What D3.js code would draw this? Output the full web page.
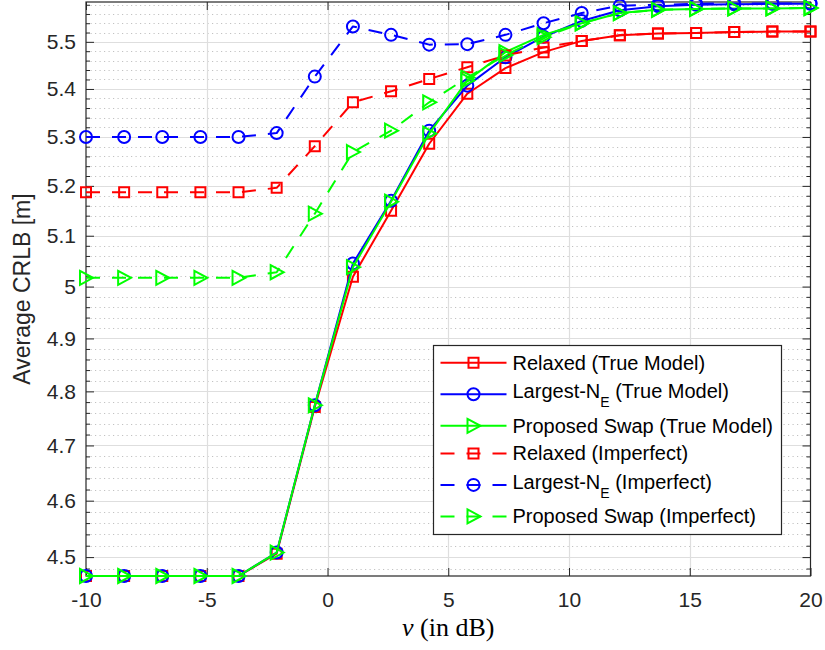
<!DOCTYPE html>
<html>
<head>
<meta charset="utf-8">
<script src="https://cdn.jsdelivr.net/npm/d3@7"></script>
<style>
  body { margin: 0; background: #fff; }
  svg { display: block; }
  .tick text { font-family: "Liberation Sans", Arial, sans-serif; }
</style>
</head>
<body>
<svg id="chart" width="825" height="650"></svg>
<script>
// SNR grid (dB)
const snrDb = [-10, -8.421, -6.842, -5.263, -3.684, -2.105, -0.526, 1.053, 2.632, 4.211,
               5.789, 7.368, 8.947, 10.526, 12.105, 13.684, 15.263, 16.842, 18.421, 20];

// Average CRLB [m] for each scheme
const relaxedTrue  = [4.467, 4.467, 4.467, 4.467, 4.467, 4.506, 4.771, 5.019, 5.150, 5.286,
                      5.390, 5.444, 5.478, 5.502, 5.514, 5.518, 5.519, 5.521, 5.522, 5.522];
const largestTrue  = [4.467, 4.467, 4.467, 4.467, 4.467, 4.508, 4.774, 5.045, 5.170, 5.313,
                      5.407, 5.467, 5.511, 5.545, 5.568, 5.577, 5.580, 5.581, 5.582, 5.582];
const swapTrue     = [4.467, 4.467, 4.467, 4.467, 4.467, 4.508, 4.774, 5.038, 5.168, 5.307,
                      5.418, 5.478, 5.515, 5.540, 5.562, 5.569, 5.571, 5.572, 5.572, 5.573];
const relaxedImp   = [5.187, 5.187, 5.187, 5.187, 5.187, 5.196, 5.281, 5.372, 5.395, 5.421,
                      5.446, 5.471, 5.488, 5.502, 5.514, 5.518, 5.519, 5.521, 5.522, 5.522];
const largestImp   = [5.300, 5.300, 5.300, 5.300, 5.300, 5.308, 5.426, 5.533, 5.515, 5.494,
                      5.495, 5.515, 5.540, 5.562, 5.578, 5.580, 5.582, 5.583, 5.583, 5.583];
const swapImp      = [5.017, 5.017, 5.017, 5.017, 5.017, 5.028, 5.144, 5.269, 5.313, 5.372,
                      5.424, 5.472, 5.510, 5.540, 5.562, 5.569, 5.571, 5.572, 5.572, 5.573];

const seriesNames = ["Relaxed (True Model)", "Largest-N_E (True Model)", "Proposed Swap (True Model)",
                     "Relaxed (Imperfect)", "Largest-N_E (Imperfect)", "Proposed Swap (Imperfect)"];
const seriesValues = [relaxedTrue, largestTrue, swapTrue, relaxedImp, largestImp, swapImp];

// Axis ticks
const xTicks = [-10, -5, 0, 5, 10, 15, 20];
const xTickLabels = ["-10", "-5", "0", "5", "10", "15", "20"];
const yTicks = [4.5, 4.6, 4.7, 4.8, 4.9, 5.0, 5.1, 5.2, 5.3, 5.4, 5.5];
const yTickLabels = ["4.5", "4.6", "4.7", "4.8", "4.9", "5", "5.1", "5.2", "5.3", "5.4", "5.5"];
const yMinorTicks = [4.48, 4.52, 4.54, 4.56, 4.58, 4.62, 4.64, 4.66, 4.68, 4.72, 4.74, 4.76, 4.78,
                     4.82, 4.84, 4.86, 4.88, 4.92, 4.94, 4.96, 4.98, 5.02, 5.04, 5.06, 5.08,
                     5.12, 5.14, 5.16, 5.18, 5.22, 5.24, 5.26, 5.28, 5.32, 5.34, 5.36, 5.38,
                     5.42, 5.44, 5.46, 5.48, 5.52, 5.54, 5.56, 5.58];

// Drawing styles per series
const styles = [
  { color: "#ff0000", marker: "square",   dash: null },
  { color: "#0000ff", marker: "circle",   dash: null },
  { color: "#00ff00", marker: "triangle", dash: null },
  { color: "#ff0000", marker: "square",   dash: "14,12" },
  { color: "#0000ff", marker: "circle",   dash: "14,12" },
  { color: "#00ff00", marker: "triangle", dash: "14,12" }
];

const plot = { left: 86, right: 810.5, top: 2, bottom: 576 };
const axisColor = "#262626";
const fontSans = '"Liberation Sans", Arial, Helvetica, sans-serif';

const x = d3.scaleLinear().domain([-10, 20]).range([plot.left, plot.right]);
const y = d3.scaleLog().domain([4.467, 5.586]).range([plot.bottom, plot.top]);

const svg = d3.select("#chart");
svg.append("rect").attr("width", 825).attr("height", 650).attr("fill", "#fff");

// Grid
const grid = svg.append("g");
grid.selectAll("line.yminor").data(yMinorTicks).join("line")
  .attr("class", "yminor")
  .attr("x1", plot.left).attr("x2", plot.right)
  .attr("y1", d => Math.round(y(d)) + 0.5).attr("y2", d => Math.round(y(d)) + 0.5)
  .attr("stroke", "#c2c2c2").attr("stroke-width", 1).attr("stroke-dasharray", "1.2,3.3");
grid.selectAll("line.ymajor").data(yTicks).join("line")
  .attr("class", "ymajor")
  .attr("x1", plot.left).attr("x2", plot.right)
  .attr("y1", d => Math.round(y(d)) + 0.5).attr("y2", d => Math.round(y(d)) + 0.5)
  .attr("stroke", "#dedede").attr("stroke-width", 1.2);
grid.selectAll("line.xmajor").data(xTicks.slice(1, -1)).join("line")
  .attr("class", "xmajor")
  .attr("y1", plot.top).attr("y2", plot.bottom)
  .attr("x1", d => Math.round(x(d)) + 0.5).attr("x2", d => Math.round(x(d)) + 0.5)
  .attr("stroke", "#dedede").attr("stroke-width", 1.2);

// Axes (ticks pointing inward on all four sides)
function styleAxis(g) {
  g.select(".domain").remove();
  g.selectAll(".tick line").attr("stroke", axisColor).attr("stroke-width", 1);
  g.selectAll(".tick text").attr("fill", axisColor).attr("font-size", 21).attr("font-family", fontSans);
}
const xFmt = (d) => xTickLabels[xTicks.indexOf(d)];
const yFmt = (d) => yTickLabels[yTicks.indexOf(d)];

svg.append("g").attr("transform", `translate(0,${plot.bottom})`)
  .call(d3.axisBottom(x).tickValues(xTicks).tickFormat(xFmt).tickSize(-8).tickSizeOuter(0).tickPadding(16))
  .call(styleAxis);
svg.append("g").attr("transform", `translate(0,${plot.top})`)
  .call(d3.axisTop(x).tickValues(xTicks).tickFormat("").tickSize(-8).tickSizeOuter(0))
  .call(styleAxis);
svg.append("g").attr("transform", `translate(${plot.left},0)`)
  .call(d3.axisLeft(y).tickValues(yTicks).tickFormat(yFmt).tickSize(-8).tickSizeOuter(0).tickPadding(10))
  .call(styleAxis);
svg.append("g").attr("transform", `translate(${plot.left},0)`)
  .call(d3.axisLeft(y).tickValues(yMinorTicks).tickFormat("").tickSize(-4).tickSizeOuter(0))
  .call(styleAxis);
svg.append("g").attr("transform", `translate(${plot.right},0)`)
  .call(d3.axisRight(y).tickValues(yTicks).tickFormat("").tickSize(-8).tickSizeOuter(0))
  .call(styleAxis);
svg.append("g").attr("transform", `translate(${plot.right},0)`)
  .call(d3.axisRight(y).tickValues(yMinorTicks).tickFormat("").tickSize(-4).tickSizeOuter(0))
  .call(styleAxis);

// Box
svg.append("rect")
  .attr("x", plot.left).attr("y", plot.top)
  .attr("width", plot.right - plot.left).attr("height", plot.bottom - plot.top)
  .attr("fill", "none").attr("stroke", axisColor).attr("stroke-width", 1.2);

// Marker shapes
function markerPath(kind) {
  if (kind === "square") return "M-5,-5H5V5H-5Z";
  if (kind === "circle") return d3.symbol(d3.symbolCircle, Math.PI * 36)();
  return "M-6,-7L7,0L-6,7Z";
}

// Series
const line = d3.line().x((d, i) => x(snrDb[i])).y(d => y(d));
const seriesG = svg.append("g");
seriesValues.forEach((vals, k) => {
  const st = styles[k];
  const g = seriesG.append("g");
  g.append("path").datum(vals)
    .attr("d", line)
    .attr("fill", "none").attr("stroke", st.color).attr("stroke-width", 2)
    .attr("stroke-linejoin", "round")
    .attr("stroke-dasharray", st.dash);
  g.selectAll("path.mk").data(vals).join("path")
    .attr("class", "mk")
    .attr("transform", (d, i) => `translate(${x(snrDb[i])},${y(d)})`)
    .attr("d", markerPath(st.marker))
    .attr("fill", "none").attr("stroke", st.color).attr("stroke-width", 2);
});

// Axis labels
svg.append("text")
  .attr("transform", `translate(30,${(plot.top + plot.bottom) / 2}) rotate(-90)`)
  .attr("text-anchor", "middle")
  .attr("font-family", fontSans).attr("font-size", 23).attr("fill", axisColor)
  .text("Average CRLB [m]");

const xl = svg.append("text")
  .attr("x", (plot.left + plot.right) / 2).attr("y", 636)
  .attr("text-anchor", "middle")
  .attr("font-family", '"Liberation Serif", "Times New Roman", serif').attr("font-size", 26).attr("fill", "#000");
xl.append("tspan").attr("font-style", "italic").text("ν");
xl.append("tspan").text(" (in dB)");

// Legend
const legend = { x: 433.5, y: 345.5, w: 348, h: 189 };
const lg = svg.append("g");
lg.append("rect")
  .attr("x", legend.x).attr("y", legend.y).attr("width", legend.w).attr("height", legend.h)
  .attr("fill", "#fff").attr("stroke", axisColor).attr("stroke-width", 1.2);

let cy = legend.y + 3.5;
seriesNames.forEach((name, k) => {
  const st = styles[k];
  const hasSub = name.includes("_");
  const h = hasSub ? 35.4 : 27.6;
  const rowY = cy + h / 2;
  cy += h;
  const x0 = legend.x + 7, x1 = legend.x + 73, xm = (x0 + x1) / 2;
  lg.append("line").attr("x1", x0).attr("x2", x1).attr("y1", rowY).attr("y2", rowY)
    .attr("stroke", st.color).attr("stroke-width", 2).attr("stroke-dasharray", st.dash);
  lg.append("path").attr("transform", `translate(${xm},${rowY})`)
    .attr("d", markerPath(st.marker))
    .attr("fill", "none").attr("stroke", st.color).attr("stroke-width", 2);
  const t = lg.append("text")
    .attr("x", legend.x + 79).attr("y", rowY + 7 - (hasSub ? 3 : 0))
    .attr("font-family", fontSans).attr("font-size", 20).attr("fill", "#000");
  if (hasSub) {
    const [pre, post] = name.split("_");
    t.append("tspan").text(pre);
    t.append("tspan").attr("font-size", 14).attr("dy", 9).text(post[0]);
    t.append("tspan").attr("dy", -9).text(post.slice(1));
  } else {
    t.text(name);
  }
});
</script>
</body>
</html>
